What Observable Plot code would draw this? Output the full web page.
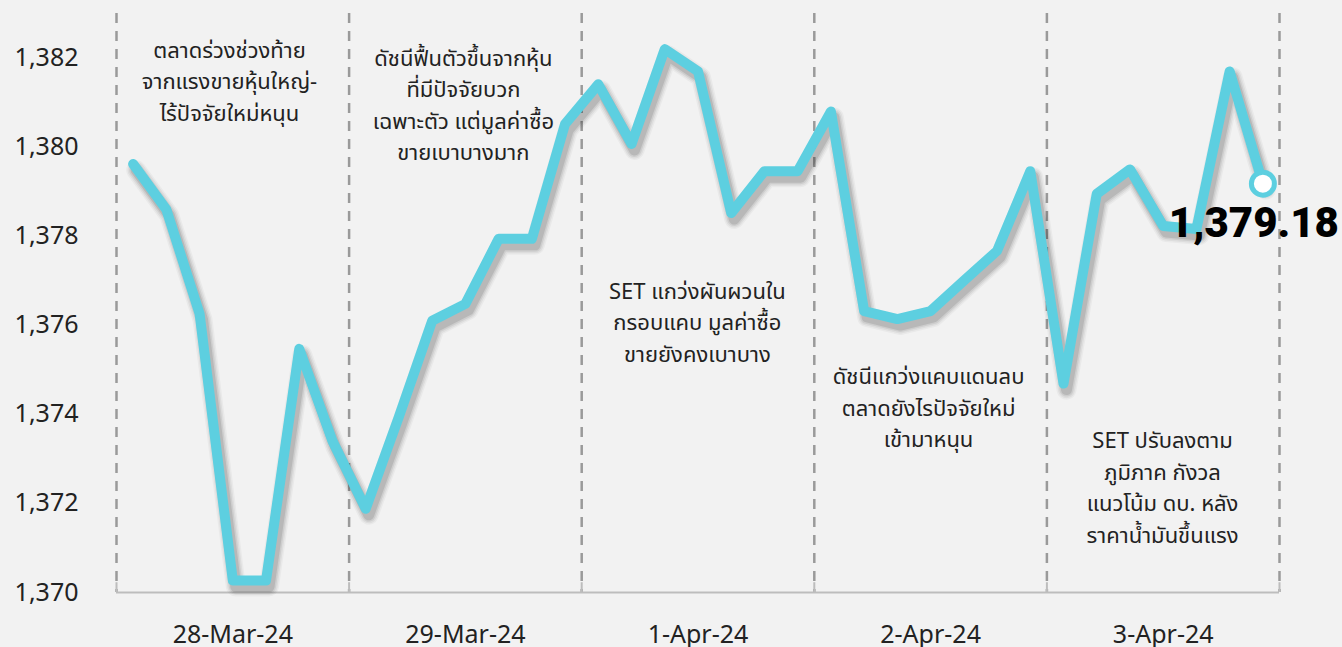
<!DOCTYPE html>
<html>
<head>
<meta charset="utf-8">
<script src="https://cdn.jsdelivr.net/npm/d3@7"></script>
<script src="https://cdn.jsdelivr.net/npm/@observablehq/plot@0.6"></script>
<style>
  html, body { margin: 0; padding: 0; background: #f2f2f2; }
  #chart svg { display: block; }
</style>
</head>
<body>
<div id="chart"></div>
<script>
// Intraday SET index, 7 readings per trading day
const values = [
  1379.62, 1378.60, 1376.26, 1370.27, 1370.27, 1375.47, 1373.40,
  1371.88, 1373.95, 1376.10, 1376.48, 1377.94, 1377.94, 1380.52,
  1381.41, 1380.07, 1382.20, 1381.70, 1378.52, 1379.46, 1379.46,
  1380.80, 1376.32, 1376.14, 1376.32, 1377.00, 1377.67, 1379.46,
  1374.69, 1378.95, 1379.50, 1378.23, 1378.16, 1381.70, 1379.18
];
const days = ["28-Mar-24", "29-Mar-24", "1-Apr-24", "2-Apr-24", "3-Apr-24"];
const pointsPerDay = 7;
const yTicks = [1370, 1372, 1374, 1376, 1378, 1380, 1382];
const lastLabel = "1,379.18";

const notes = [
  "ตลาดร่วงช่วงท้าย\nจากแรงขายหุ้นใหญ่-\nไร้ปัจจัยใหม่หนุน",
  "ดัชนีฟื้นตัวขึ้นจากหุ้น\nที่มีปัจจัยบวก\nเฉพาะตัว แต่มูลค่าซื้อ\nขายเบาบางมาก",
  "SET แกว่งผันผวนใน\nกรอบแคบ มูลค่าซื้อ\nขายยังคงเบาบาง",
  "ดัชนีแกว่งแคบแดนลบ\nตลาดยังไรปัจจัยใหม่\nเข้ามาหนุน",
  "SET ปรับลงตาม\nภูมิภาค กังวล\nแนวโน้ม ดบ. หลัง\nราคาน้ำมันขึ้นแรง"
];
const noteX = [3.4, 10.44, 17.48, 24.44, 31.48];
const noteY = [1381.52, 1380.99, 1376.11, 1374.2, 1372.4];

const series = values.map((v, i) => ({x: i + 0.5, y: v}));
const boundaries = d3.range(0, days.length + 1).map(d => d * pointsPerDay);
const dayCenters = days.map((d, i) => i * pointsPerDay + pointsPerDay / 2);
const noteData = notes.map((t, i) => ({text: t, x: noteX[i], y: noteY[i]}));
const last = series[series.length - 1];

const font = "'Noto Sans Thai', 'Noto Sans', sans-serif";
const cyan = "#5dcfe0";

// soft shadow approximated by stacked translucent offset strokes
const shadowLayers = [
  {w: 20, o: 0.035}, {w: 17, o: 0.05}, {w: 14, o: 0.07}, {w: 11, o: 0.1}
].map(s => Plot.line(series, {x: "x", y: "y", dx: 3, dy: 6, stroke: "#000", strokeOpacity: s.o, strokeWidth: s.w, strokeLinejoin: "round", strokeLinecap: "round"}));

const chart = Plot.plot({
  width: 1342,
  height: 647,
  marginLeft: 116,
  marginRight: 63,
  marginTop: 13,
  marginBottom: 55,
  style: {background: "#f2f2f2", fontFamily: font, color: "#222"},
  x: {domain: [0, values.length], axis: null, label: null},
  y: {domain: [1370, 1383], axis: null, label: null},
  marks: [
    Plot.ruleX(boundaries, {stroke: "#9a9a9a", strokeWidth: 2.5, strokeDasharray: "10,8"}),
    Plot.ruleX(boundaries, {y1: 1370, y2: 1370.22, stroke: "#bdbdbd", strokeWidth: 2}),
    Plot.ruleY([1370], {x1: 0, x2: values.length, stroke: "#bdbdbd", strokeWidth: 2}),
    Plot.axisY(yTicks, {tickSize: 0, tickPadding: 38, tickFormat: d3.format(","), fontSize: 25, fill: "#222", label: null}),
    Plot.axisX(dayCenters, {tickSize: 0, tickPadding: 33, tickFormat: (d, i) => days[i], fontSize: 25, fill: "#222", label: null}),
    Plot.text(noteData, {x: "x", y: "y", text: "text", fontSize: 22, lineHeight: 1.43, fill: "#222", textAnchor: "middle", lineAnchor: "middle"}),
    ...shadowLayers,
    Plot.line(series, {x: "x", y: "y", stroke: cyan, strokeWidth: 10, strokeLinejoin: "round", strokeLinecap: "round"}),
    Plot.dot([last], {x: "x", y: "y", r: 11.5, fill: "white", stroke: cyan, strokeWidth: 5}),
    Plot.text([last], {x: "x", y: "y", text: () => lastLabel, fontSize: 42, fontWeight: 900, fill: "#000", fontFamily: "Roboto, 'Noto Sans', sans-serif", textAnchor: "middle", dx: -9, dy: 40})
  ]
});

document.getElementById("chart").appendChild(chart);
</script>
</body>
</html>
